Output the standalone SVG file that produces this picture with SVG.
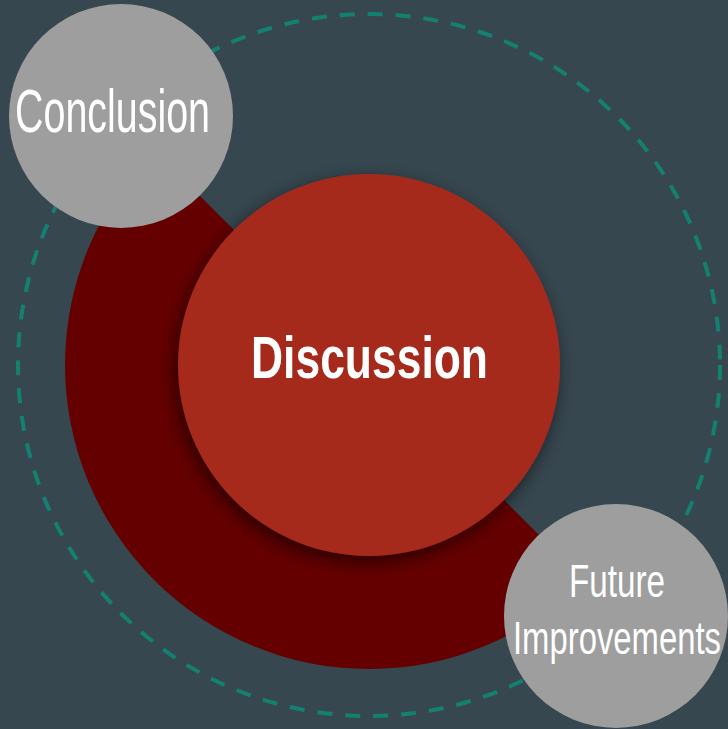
<svg xmlns="http://www.w3.org/2000/svg" width="728" height="729" viewBox="0 0 728 729">
  <defs>
    <style>
      .label { fill: #ffffff; font-family: "Liberation Sans", "DejaVu Sans", sans-serif; text-anchor: middle; }
      .sat { fill: #9e9e9e; }
    </style>
    <filter id="soft-shadow" x="-20%" y="-20%" width="140%" height="140%">
      <feDropShadow dx="-3" dy="6" stdDeviation="9" flood-color="#000000" flood-opacity="0.6"/>
    </filter>
  </defs>

  <!-- backdrop -->
  <rect width="728" height="729" fill="#37474f"/>

  <!-- orbit ring -->
  <g id="connectors">
    <circle cx="369" cy="365" r="351" fill="none" stroke="#138070" stroke-width="4" stroke-dasharray="15 13"/>
  </g>

  <!-- half-disc wedge behind the hub -->
  <g id="wedge">
    <path d="M369,365 L154,150 A304,304 0 0 0 584,580 Z" fill="#650000"/>
  </g>

  <g id="discussion">
    <circle cx="369" cy="365" r="191" fill="#a62a1f" filter="url(#soft-shadow)"/>
    <text class="label" x="369.5" y="378" font-size="60" font-weight="bold" textLength="237" lengthAdjust="spacingAndGlyphs">Discussion</text>
  </g>

  <g id="conclusion">
    <circle class="sat" cx="121" cy="116" r="112"/>
    <text class="label" x="112.5" y="132" font-size="61" textLength="195" lengthAdjust="spacingAndGlyphs">Conclusion</text>
  </g>

  <g id="future-improvements">
    <circle class="sat" cx="616" cy="616" r="112"/>
    <text class="label" x="617" y="597" font-size="47" textLength="96" lengthAdjust="spacingAndGlyphs">Future</text>
    <text class="label" x="617" y="654" font-size="46" textLength="208" lengthAdjust="spacingAndGlyphs">Improvements</text>
  </g>
</svg>
